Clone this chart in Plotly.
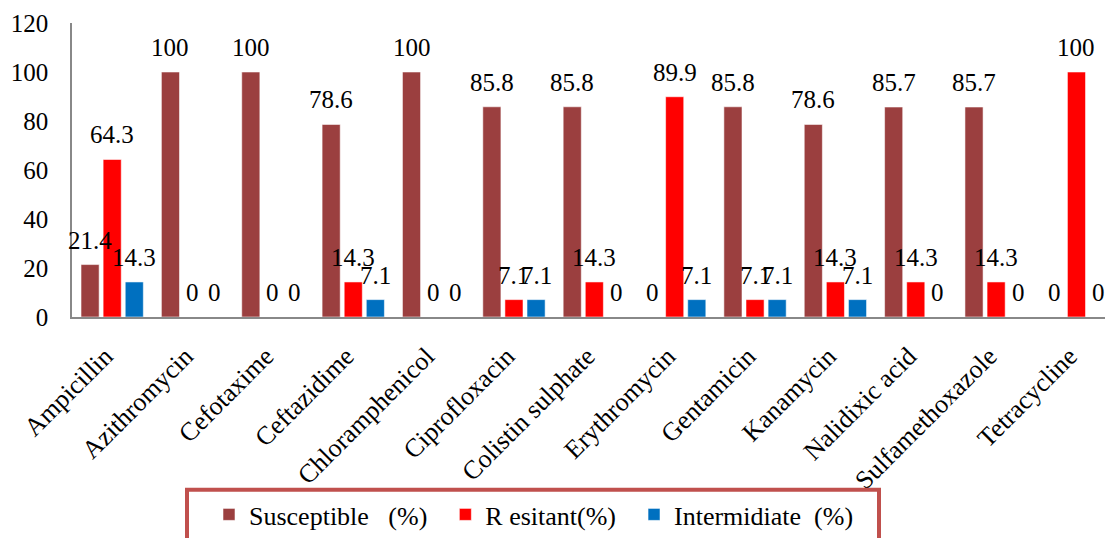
import plotly.graph_objects as go

categories = ["Ampicillin", "Azithromycin", "Cefotaxime", "Ceftazidime", "Chloramphenicol",
              "Ciprofloxacin", "Colistin sulphate", "Erythromycin", "Gentamicin", "Kanamycin",
              "Nalidixic acid", "Sulfamethoxazole", "Tetracycline"]
susceptible = [21.4, 100, 100, 78.6, 100, 85.8, 85.8, 0, 85.8, 78.6, 85.7, 85.7, 0]
resistant = [64.3, 0, 0, 14.3, 0, 7.1, 14.3, 89.9, 7.1, 14.3, 14.3, 14.3, 100]
intermediate = [14.3, 0, 0, 7.1, 0, 7.1, 0, 7.1, 7.1, 7.1, 0, 0, 0]

series_names = ["Susceptible\u00a0\u00a0\u00a0(%)\u00a0\u00a0", "R esitant(%)\u00a0\u00a0", "Intermidiate\u00a0\u00a0(%)"]
series_values = [susceptible, resistant, intermediate]
series_colors = ["#9B3F3F", "#FF0000", "#0070C0"]

FONT = "Liberation Serif"
BARGAP = 0.175
BARGROUPGAP = 0.18

fig = go.Figure()
for name, vals, col in zip(series_names, series_values, series_colors):
    fig.add_trace(go.Bar(
        x=categories, y=vals, name=name,
        marker=dict(color=col, line=dict(color="rgba(255,255,255,0.55)", width=1)),
    ))

# value labels above each bar, offset to the bar's slot within its group
slot = (1 - BARGAP) / len(series_values)
for k, vals in enumerate(series_values):
    off = (k - (len(series_values) - 1) / 2) * slot
    for i, v in enumerate(vals):
        fig.add_annotation(
            x=i + off, y=v, xref="x", yref="y",
            text=f"{v:g}", showarrow=False,
            yanchor="bottom", yshift=9,
            font=dict(family=FONT, size=25, color="black"),
        )

# frame around the legend
fig.add_shape(type="rect", xref="paper", yref="paper",
              x0=(187 - 72) / 1033, x1=(879 - 72) / 1033,
              y0=(319 - 548) / 296, y1=(319 - 493) / 296,
              line=dict(color="#C0504D", width=4), fillcolor="rgba(0,0,0,0)")

fig.update_layout(
    width=1105, height=538,
    margin=dict(l=72, r=0, t=23, b=219),
    paper_bgcolor="white", plot_bgcolor="white",
    barmode="group", bargap=BARGAP, bargroupgap=BARGROUPGAP,
    font=dict(family=FONT, color="black"),
    showlegend=True,
    legend=dict(
        orientation="h", x=(209 - 72) / 1033, y=(319 - 518) / 296,
        xanchor="left", yanchor="middle",
        font=dict(family=FONT, size=26, color="black"),
        bgcolor="rgba(0,0,0,0)", borderwidth=0,
        itemwidth=30, tracegroupgap=0,
    ),
    xaxis=dict(
        range=[-0.5, 12.355], showline=True, linecolor="#888888", linewidth=1.5,
        tickangle=-45, tickfont=dict(family=FONT, size=26, color="black"),
        ticks="", showgrid=False, zeroline=False,
        ticklabelstandoff=12, ticklabelshift=-7,
    ),
    yaxis=dict(
        range=[0, 120], dtick=20, showline=True, linecolor="#888888", linewidth=1.5,
        tickfont=dict(family=FONT, size=25, color="black"),
        ticks="", showgrid=False, zeroline=False, ticklabelstandoff=17,
    ),
)

fig.write_html("out.html")
